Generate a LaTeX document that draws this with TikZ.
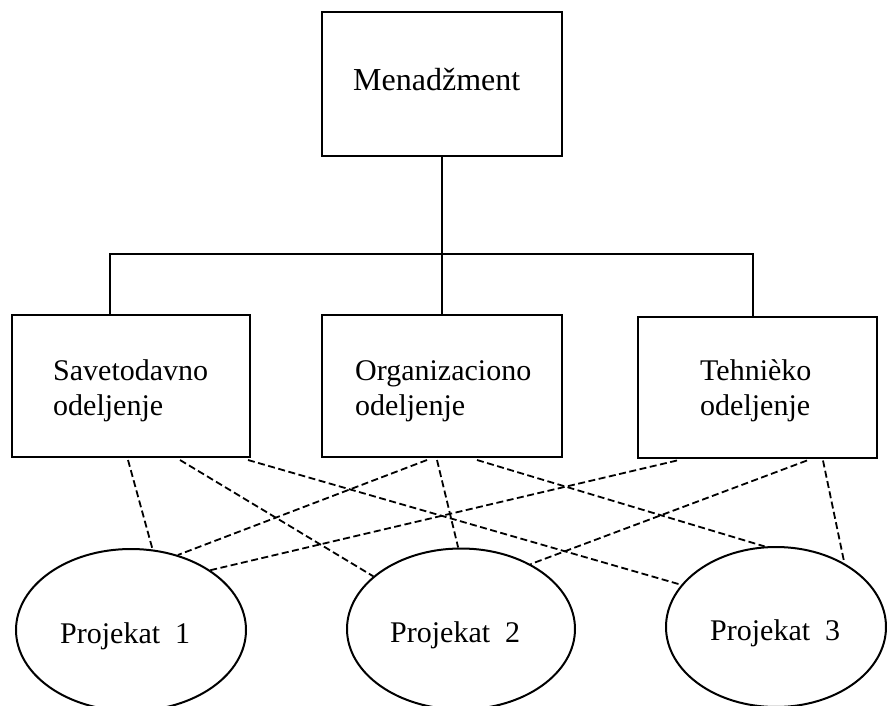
\documentclass[tikz,border=0pt]{standalone}
\usepackage{fontspec}
\setmainfont{Liberation Serif}
\usetikzlibrary{shapes.geometric}
\begin{document}
\begin{tikzpicture}[x=1pt,y=-1pt,
  unit/.style={draw, line width=2pt, inner sep=0pt, minimum width=238pt,
    minimum height=142pt},
  project/.style={draw, ellipse, line width=2pt, inner sep=0pt},
  lbl/.style={inner sep=0pt, anchor=base west, align=left,
    font=\fontsize{30}{35}\selectfont},
  link/.style={line width=1.8pt, dash pattern=on 7pt off 3.5pt},
  tree/.style={line width=2pt}]
\useasboundingbox (0,0) rectangle (887,706);

% management and the three departments
\node[unit, minimum width=240pt, minimum height=144pt] (m) at (442,84) {};
\node[unit] (s1) at (131,386) {};
\node[unit, minimum width=240pt] (s2) at (442,386) {};
\node[unit, minimum width=239pt, minimum height=141pt] (s3) at (757,387) {};

% projects
\node[project, minimum width=230pt, minimum height=162pt] (p1) at (131,630) {};
\node[project, minimum width=228pt, minimum height=161pt] (p2) at (461,629) {};
\node[project, minimum width=220pt, minimum height=160pt] (p3) at (776,627) {};

% labels (base anchor of a two-line label sits on its last line)
\node[lbl, font=\fontsize{32}{37}\selectfont] (mt) at (353,91) {Menadžment};
\node[lbl] (s1t) at (53,415) {Savetodavno\\odeljenje};
\node[lbl] (s2t) at (355,415) {Organizaciono\\odeljenje};
\node[lbl] (s3t) at (700,415) {Tehnièko\\odeljenje};
\node[lbl] (p1t) at (60,643) {Projekat~~1};
\node[lbl] (p2t) at (390,642) {Projekat~~2};
\node[lbl] (p3t) at (710,640) {Projekat~~3};

% line hierarchy
\coordinate (bus) at (442,254);
\draw[tree] (m.south) -- (s2.north);
\draw[tree] ([xshift=-21pt]s1.north) |- (bus) -| ([xshift=-4.5pt]s3.north);

% matrix links from departments to projects
\draw[link] ([xshift=-3pt,yshift=-2pt]s1.south) -- (p1.75);
\draw[link] ([xshift=49pt,yshift=-2pt]s1.south) -- (p2.149);
\draw[link] ([xshift=117pt,yshift=-2pt]s1.south) -- (p3.156);
\draw[link] ([xshift=-15pt,yshift=-2pt]s2.south) -- (p1.58.6);
\draw[link] ([xshift=-5pt,yshift=-2pt]s2.south) -- (p2.92);
\draw[link] ([xshift=35pt,yshift=-2pt]s2.south) -- (p3.98);
\draw[link] ([xshift=-80pt,yshift=-2pt]s3.south) -- (p1.37.7);
\draw[link] ([xshift=50pt,yshift=-2pt]s3.south) -- (p2.43.7);
\draw[link] ([xshift=66pt,yshift=-2pt]s3.south) -- (p3.43.3);
\end{tikzpicture}
\end{document}
